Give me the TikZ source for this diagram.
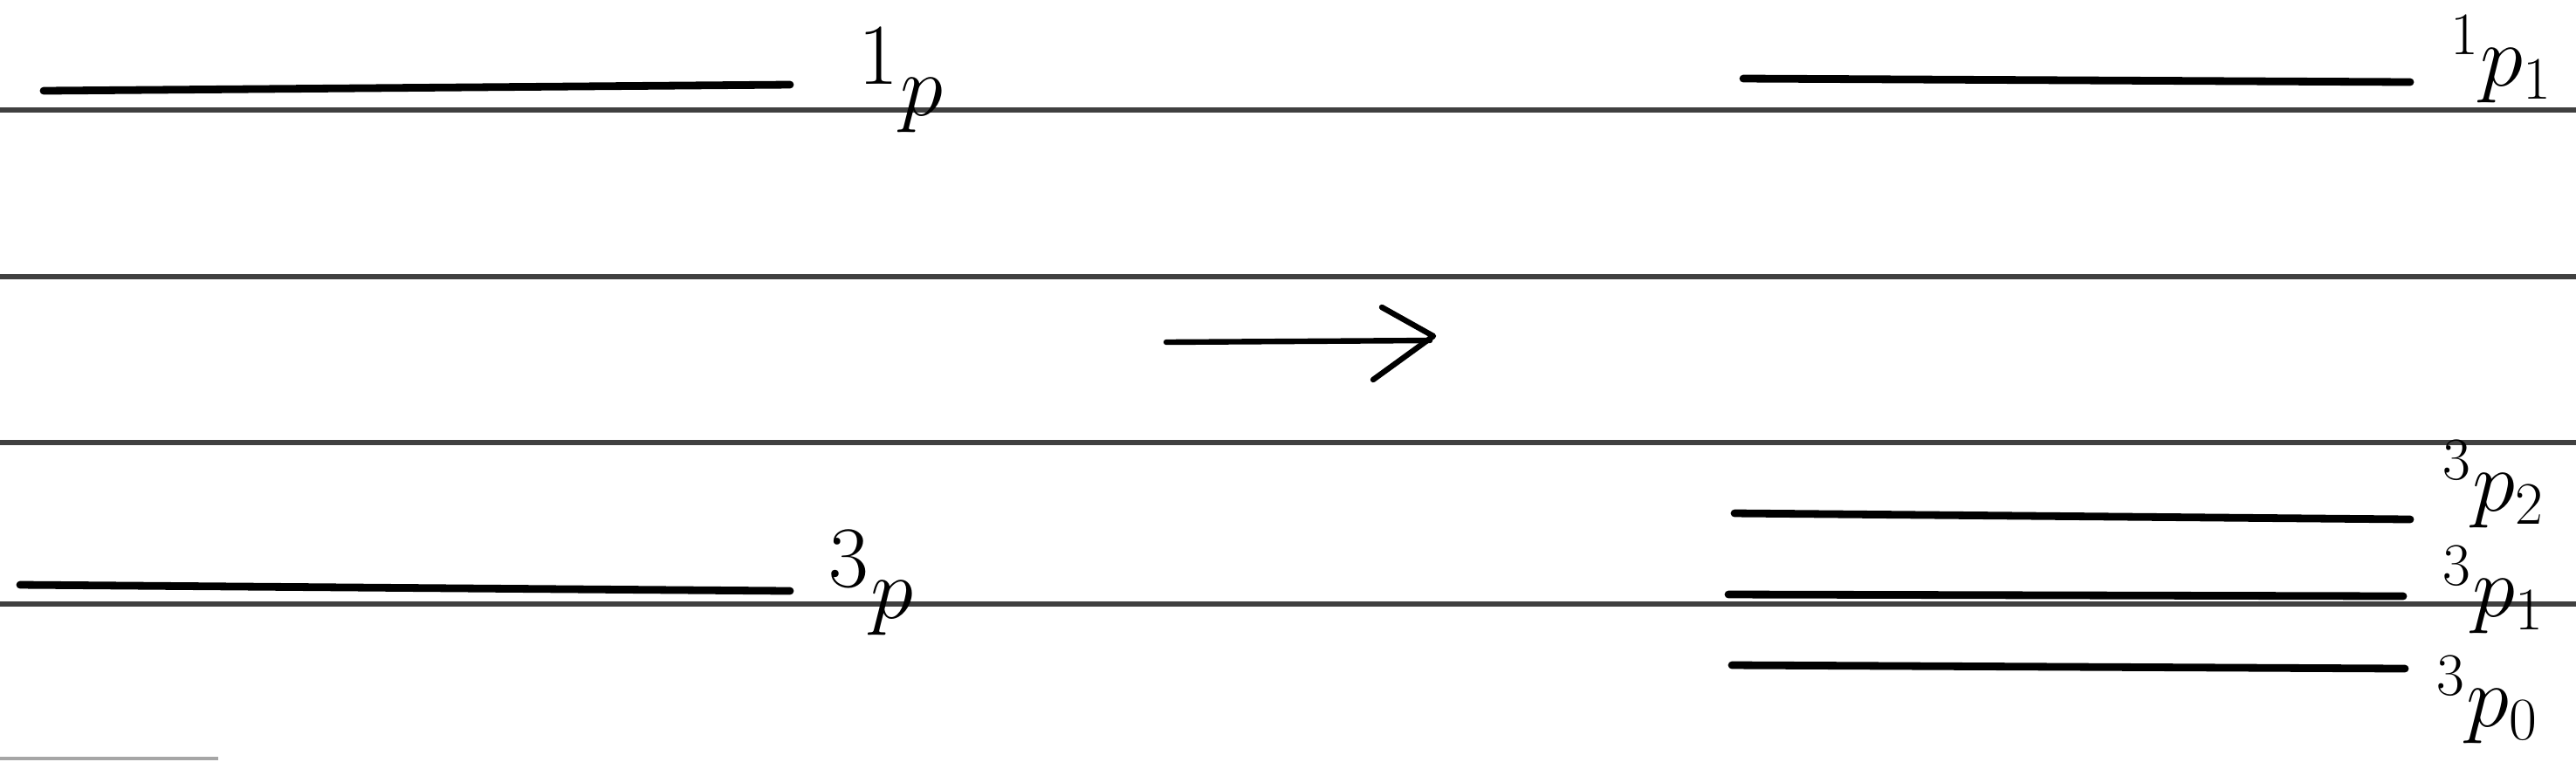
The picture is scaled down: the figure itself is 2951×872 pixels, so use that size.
\documentclass[tikz,border=0pt]{standalone}
\begin{document}
\begin{tikzpicture}[x=0.25pt,y=-0.25pt,
  rule/.style={line width=1.4pt, draw=black!75},
  level/.style={line width=2.2pt, draw=black, line cap=round},
  lab/.style={inner sep=0pt, font=\fontsize{38}{46}\selectfont},
  rlab/.style={inner sep=0pt, font=\fontsize{27}{32}\selectfont},
  arrowline/.style={line width=1.6pt, draw=black, line cap=round, line join=round}]
\useasboundingbox (0,0) rectangle (2951,872);
\fill[white] (0,0) rectangle (2951,872);
% ruled lines
\coordinate (r1a) at (0,126);  \coordinate (r1b) at (2951,126);
\coordinate (r2a) at (0,317);  \coordinate (r2b) at (2951,317);
\coordinate (r3a) at (0,507);  \coordinate (r3b) at (2951,507);
\coordinate (r4a) at (0,692);  \coordinate (r4b) at (2951,692);
\draw[rule] (r1a) -- (r1b);
\draw[rule] (r2a) -- (r2b);
\draw[rule] (r3a) -- (r3b);
\draw[rule] (r4a) -- (r4b);
\coordinate (r5a) at (0,869); \coordinate (r5b) at (250,869);
\draw[line width=1pt, draw=black!35] (r5a) -- (r5b);
% left levels
\coordinate (L1a) at (50,104); \coordinate (L1b) at (905,97);
\draw[level] (L1a) -- (L1b);
\node[lab] (l1p) at (1032,92) {$^1p$};
\coordinate (L3a) at (23,670); \coordinate (L3b) at (905,677);
\draw[level] (L3a) -- (L3b);
\node[lab] (l3p) at (998,668) {$^3p$};
% arrow
\coordinate (Aa) at (1336,392); \coordinate (Ab) at (1638,390);
\coordinate (Ah1) at (1583,352); \coordinate (Ah2) at (1573,435); \coordinate (At) at (1642,385);
\draw[arrowline] (Aa) -- (Ab);
\draw[arrowline] (Ah1) -- (At) -- (Ah2);
% right levels
\coordinate (R1a) at (1997,90); \coordinate (R1b) at (2761,94);
\draw[level] (R1a) -- (R1b);
\node[rlab] (r1p1) at (2866,68) {$^1p_1$};
\coordinate (R2a) at (1987,588); \coordinate (R2b) at (2761,595);
\draw[level] (R2a) -- (R2b);
\node[rlab] (r3p2) at (2857,555) {$^3p_2$};
\coordinate (R3a) at (1980,681); \coordinate (R3b) at (2753,683);
\draw[level] (R3a) -- (R3b);
\node[rlab] (r3p1) at (2857,676) {$^3p_1$};
\coordinate (R4a) at (1984,762); \coordinate (R4b) at (2755,766);
\draw[level] (R4a) -- (R4b);
\node[rlab] (r3p0) at (2850,802) {$^3p_0$};
\end{tikzpicture}
\end{document}
